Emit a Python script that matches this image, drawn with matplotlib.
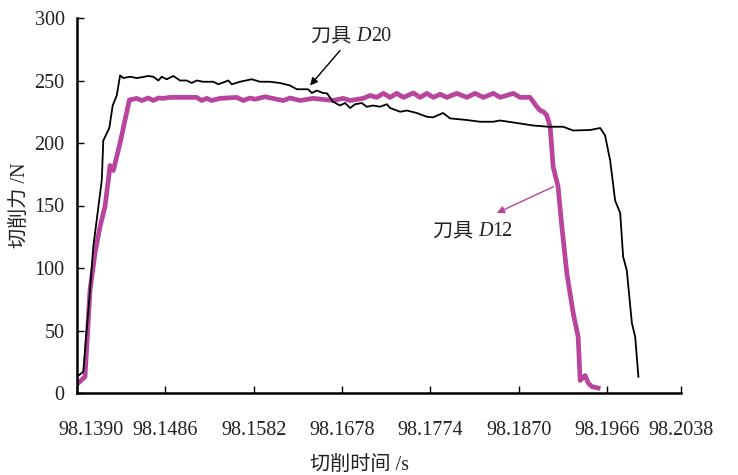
import matplotlib
matplotlib.use("Agg")
import matplotlib.pyplot as plt
import matplotlib.transforms as mtransforms
from matplotlib.offsetbox import TextArea, HPacker, AnnotationBbox

plt.rcParams['font.family'] = ['Liberation Serif', 'Noto Sans CJK SC', 'DejaVu Sans']

# Tool D20 (black)
d20_t = [98.13900, 98.13968, 98.14041, 98.14077, 98.14169, 98.14186, 98.14251, 98.14288,
         98.14332, 98.14368, 98.14403, 98.14476, 98.14549, 98.14603, 98.14675, 98.14730,
         98.14784, 98.14821, 98.14875, 98.14947, 98.15020, 98.15093, 98.15147, 98.15201,
         98.15270, 98.15382, 98.15436, 98.15509, 98.15545, 98.15582, 98.15672, 98.15799,
         98.15890, 98.15998, 98.16107, 98.16216, 98.16289, 98.16411, 98.16452, 98.16506,
         98.16574, 98.16618, 98.16683, 98.16759, 98.16814, 98.16868, 98.16922, 98.16995,
         98.17049, 98.17118, 98.17194, 98.17267, 98.17303, 98.17412, 98.17485, 98.17593,
         98.17702, 98.17770, 98.17879, 98.17955, 98.18137, 98.18281, 98.18423, 98.18499,
         98.18680, 98.18858, 98.19021, 98.19184, 98.19293, 98.19477, 98.19586, 98.19640,
         98.19695, 98.19749, 98.19804, 98.19836, 98.19876, 98.19931, 98.19967, 98.20002]
d20_f = [13, 17, 82, 117, 170, 202, 212, 230,
         238, 254, 252, 253, 252, 252.6, 253.6, 253,
         250, 253, 251, 253.6, 250, 250, 248, 250,
         249, 249, 247, 249, 250, 247, 249, 251,
         249, 249, 248, 246, 243, 243, 240, 242,
         240, 239.7, 233, 230, 232, 228, 231, 232,
         229, 230, 229, 231, 228, 225, 226, 224,
         221, 220.5, 224, 219.7, 218.4, 217, 217, 218,
         216, 214, 213, 213, 210, 210.4, 212, 206,
         186, 154, 144, 109, 98, 56, 45, 13]

# Tool D12 (magenta)
d12_t = [98.13914, 98.13987, 98.14041, 98.14096, 98.14150, 98.14204, 98.14240, 98.14259,
         98.14295, 98.14368, 98.14469, 98.14549, 98.14603, 98.14675, 98.14730, 98.14784,
         98.14838, 98.14911, 98.15201, 98.15256, 98.15310, 98.15364, 98.15455, 98.15636,
         98.15708, 98.15781, 98.15835, 98.15944, 98.16071, 98.16143, 98.16216, 98.16324,
         98.16466, 98.16683, 98.16792, 98.16868, 98.17009, 98.17086, 98.17158, 98.17230,
         98.17303, 98.17375, 98.17448, 98.17556, 98.17629, 98.17702, 98.17774, 98.17847,
         98.17919, 98.18028, 98.18137, 98.18227, 98.18317, 98.18426, 98.18499, 98.18643,
         98.18716, 98.18825, 98.18898, 98.18934, 98.18970, 98.19007, 98.19043, 98.19075,
         98.19129, 98.19170, 98.19224, 98.19293, 98.19347, 98.19369, 98.19423, 98.19456,
         98.19499, 98.19564]
d12_f = [8, 13, 82, 112, 133, 149, 170, 182,
         178, 200, 234.4, 235.7, 234, 236, 234, 236,
         235.7, 236.5, 236.5, 234, 235.7, 234, 235.7, 236.5,
         234, 236, 235, 237, 235, 234, 236, 234,
         235.7, 234, 235.7, 234, 235.7, 238, 236.5, 239.7,
         236.5, 239.7, 236.5, 240, 236.5, 239.7, 236.5, 239,
         236.5, 239.7, 236.5, 239.7, 236.5, 239.7, 236.5, 239.7,
         236.5, 236.5, 229, 226, 225, 222, 213, 181,
         165, 133, 96, 64, 45, 10, 14, 8,
         5, 4]

x_ticks = [98.1390, 98.1486, 98.1582, 98.1678, 98.1774, 98.1870, 98.1966, 98.20465]
x_tick_labels = ['98.1390', '98.1486', '98.1582', '98.1678', '98.1774', '98.1870', '98.1966', '98.2038']
y_ticks = [0, 50, 100, 150, 200, 250, 300]

magenta = '#B8449E'
txt_color = '#222222'
fs = 14.5

fig = plt.figure(figsize=(7.38, 4.75), dpi=100)
ax = fig.add_axes([77/738, 1-393/475, (681-77)/738, (393-18)/475])

ax.plot(d12_t, d12_f, color=magenta, lw=3.4, solid_joinstyle='round', zorder=2)
ax.plot(d20_t, d20_f, color='black', lw=1.3, zorder=3)

ax.set_xlim(x_ticks[0], x_ticks[-1])
ax.set_ylim(0, 300)
ax.set_xticks(x_ticks)
ax.set_xticklabels(x_tick_labels)
ax.set_yticks(y_ticks)

for s in ['top', 'right']:
    ax.spines[s].set_visible(False)
for s in ['left', 'bottom']:
    ax.spines[s].set_linewidth(1.8)

ax.tick_params(axis='x', direction='in', length=5, width=1, pad=20, labelsize=fs, labelcolor=txt_color)
ax.tick_params(axis='y', direction='in', length=5, width=1, pad=9, labelsize=fs, labelcolor=txt_color)

# first x tick label sits slightly right of its tick
lbl0 = ax.get_xticklabels()[0]
lbl0.set_transform(lbl0.get_transform() + mtransforms.ScaledTranslation(0.14, 0, fig.dpi_scale_trans))

ax.set_xlabel('切削时间 /s', fontsize=fs, color=txt_color)
ax.xaxis.set_label_coords(0.468, -0.168)
ax.set_ylabel('切削力 /N', fontsize=fs, color=txt_color)
ax.yaxis.set_label_coords(-0.078, 0.5)


def tool_label(xy, num):
    parts = [TextArea('刀具 ', textprops=dict(fontsize=fs, color=txt_color)),
             TextArea('D', textprops=dict(fontsize=fs, color=txt_color, fontstyle='italic')),
             TextArea(num, textprops=dict(fontsize=fs, color=txt_color))]
    box = HPacker(children=parts, sep=0, pad=0, align='baseline')
    ab = AnnotationBbox(box, xy, xycoords='data', frameon=False, box_alignment=(0.5, 0.5),
                        annotation_clip=False)
    ax.add_artist(ab)


tool_label((98.16879, 285), '20')
tool_label((98.18200, 129), '12')

ax.annotate('', xy=(98.16433, 246), xytext=(98.16759, 274),
            arrowprops=dict(arrowstyle='-|>', color='black', lw=1.0, mutation_scale=11,
                            shrinkA=0, shrinkB=0))
ax.annotate('', xy=(98.18463, 144), xytext=(98.19078, 165),
            arrowprops=dict(arrowstyle='-|>', color=magenta, lw=1.0, mutation_scale=11,
                            shrinkA=0, shrinkB=0))

fig.savefig('out.png', dpi=100)
